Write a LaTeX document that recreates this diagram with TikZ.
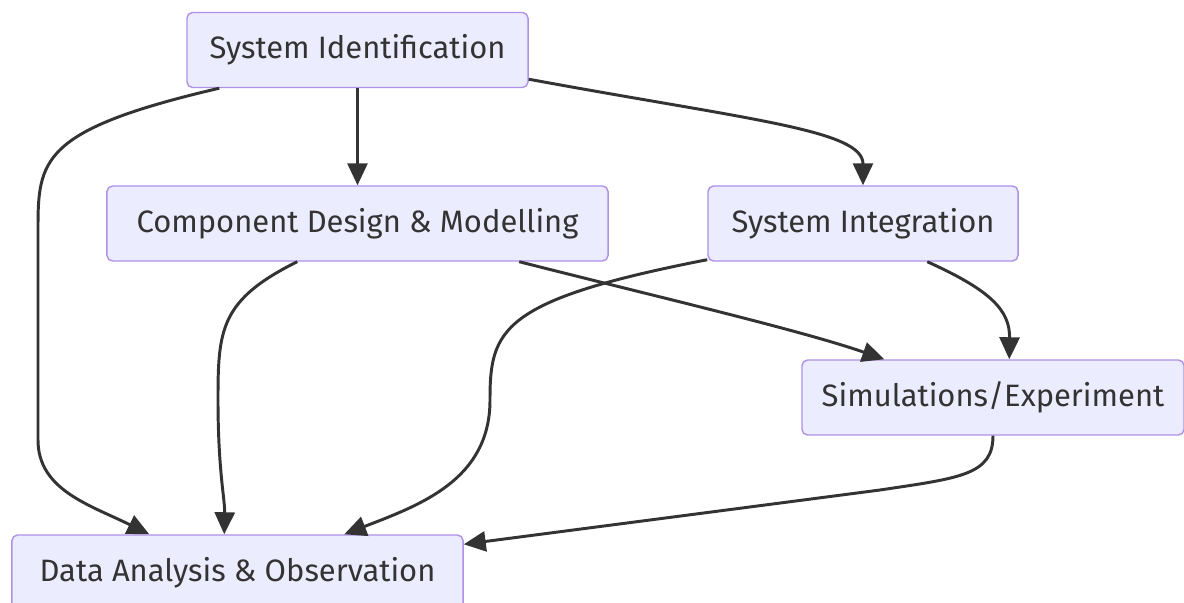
\documentclass[tikz,border=0pt]{standalone}
\usepackage{fontspec}
\setmainfont{Fira Sans}
\usetikzlibrary{arrows.meta,calc}
\begin{document}
\begin{tikzpicture}[x=0.025cm,y=-0.025cm]
\definecolor{boxfill}{RGB}{236,236,255}
\definecolor{boxline}{RGB}{175,145,230}
\definecolor{inkcolor}{RGB}{51,51,51}
\tikzstyle{block}=[draw=boxline,fill=boxfill,line width=1pt,rounded corners=4pt,minimum height=1.875cm,inner sep=0pt,text=inkcolor,font=\fontsize{22}{26}\selectfont]
\tikzstyle{link}=[draw=inkcolor,line width=2.1pt,-{Triangle[length=0.55cm,width=0.5cm]}]
\useasboundingbox (0,0) rectangle (1184,603);
\node[block,minimum width=8.525cm] (sysid) at (357.5,50) {System Identification};
\node[block,minimum width=12.525cm] (design) at (357.5,223.5) {Component Design \& Modelling};
\node[block,minimum width=7.75cm] (integ) at (863,223.5) {System Integration};
\node[block,minimum width=9.55cm] (simexp) at (993,397.5) {Simulations/Experiment};
\node[block,minimum width=11.275cm] (data) at (237.5,572.5) {Data Analysis \& Observation};
\draw[link] ($(sysid.south west)+(33,0)$) .. controls (40,130) and (38,160) .. (38,230) -- (38,440) .. controls (38,490) and (90,505) .. ($(data.north west)+(138,0)$);
\draw[link] (sysid) -- (design);
\draw[link] ($(sysid.south east)+(0,-9)$) .. controls (750,120) and (863,130) .. (integ.north);
\draw[link] ($(design.south west)+(191,0)$) .. controls (220,300) and (218,330) .. (218,400) .. controls (218,470) and (225,500) .. ($(data.north west)+(213,0)$);
\draw[link] ($(design.south west)+(413,0)$) .. controls (650,295) and (800,330) .. ($(simexp.north west)+(83,0)$);
\draw[link] ($(integ.south west)+(0,-2)$) .. controls (500,300) and (490,330) .. (490,400) .. controls (490,480) and (420,505) .. ($(data.north west)+(333,0)$);
\draw[link] ($(integ.south west)+(220,0)$) .. controls (990,290) and (1010,310) .. ($(simexp.north west)+(208,0)$);
\draw[link] (simexp.south) .. controls (993,475) and (960,478) .. (880,490) -- ($(data.north east)+(0,10)$);
\end{tikzpicture}
\end{document}
